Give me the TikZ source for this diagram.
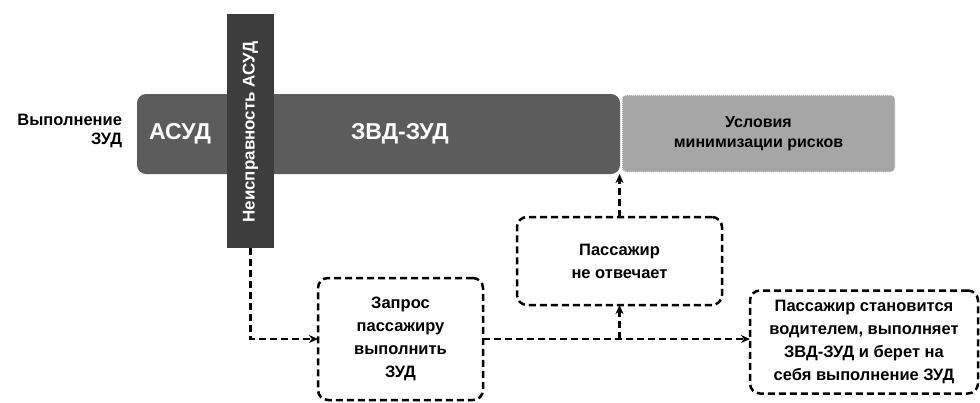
\documentclass[tikz,border=0pt]{standalone}
\usepackage{fontspec}
\setmainfont{Liberation Sans}
\usetikzlibrary{arrows.meta,calc}
\begin{document}
\begin{tikzpicture}[x=1pt,y=-1pt,
  every node/.style={inner sep=0pt,outer sep=0pt,font=\bfseries},
  darkbar/.style={fill=black!64,rounded corners=9pt},
  lightbox/.style={fill=black!35,draw=white,densely dotted,line width=1pt,rounded corners=4pt},
  vbarbox/.style={fill=black!76},
  dashbox/.style={draw=black,line width=2.5pt,dash pattern=on 7pt off 4pt,rounded corners=10pt,align=center,font=\bfseries\fontsize{16.5}{23}\selectfont},
  conn/.style={draw=black,line width=2.5pt,dash pattern=on 7pt off 4pt,-{Stealth[length=9pt,width=8pt]}},
  bartext/.style={text=white,font=\bfseries\fontsize{23}{26}\selectfont}
]
\useasboundingbox (0,0) rectangle (980,402);
\fill[white] (0,0) rectangle (980,402);
% main bars
\node[darkbar,minimum width=483pt,minimum height=80pt] (bar) at (378.5,134) {};
\node[lightbox,minimum width=273pt,minimum height=77pt,align=center,font=\bfseries\fontsize{16}{20}\selectfont] (light) at (758.5,133.5) {Условия\\минимизации рисков};
\node[bartext] (asud) at (180,134) {АСУД};
\node[bartext] (zvd) at (400,134) {ЗВД-ЗУД};
\node[align=right,font=\bfseries\fontsize{16.5}{19}\selectfont,anchor=east] (lbl) at (122,131) {Выполнение\\ЗУД};
\node[vbarbox,minimum width=47pt,minimum height=234pt] (vbar) at (250.5,131) {};
\node[rotate=90,text=white,font=\bfseries\fontsize{17}{19}\selectfont] (vtext) at (250.5,132) {Неисправность АСУД};
% dashed boxes
\node[dashbox,minimum width=205pt,minimum height=88pt] (pna) at (619.5,261) {Пассажир\\не отвечает};
\node[dashbox,minimum width=165pt,minimum height=122pt] (zap) at (400.5,339) {Запрос\\пассажиру\\выполнить\\ЗУД};
\node[dashbox,minimum width=228pt,minimum height=103pt] (pst) at (864,342) {Пассажир становится\\водителем, выполняет\\ЗВД-ЗУД и берет на\\себя выполнение ЗУД};
% connectors
\coordinate (j) at (pna.south |- zap.east);
\draw[conn] (vbar.south) |- (zap.west);
\draw[conn] (zap.east) -- (zap.east -| pst.west);
\draw[conn] (j) -- (pna.south);
\draw[conn] (pna.north) -- (pna.north |- bar.south);
\end{tikzpicture}
\end{document}
